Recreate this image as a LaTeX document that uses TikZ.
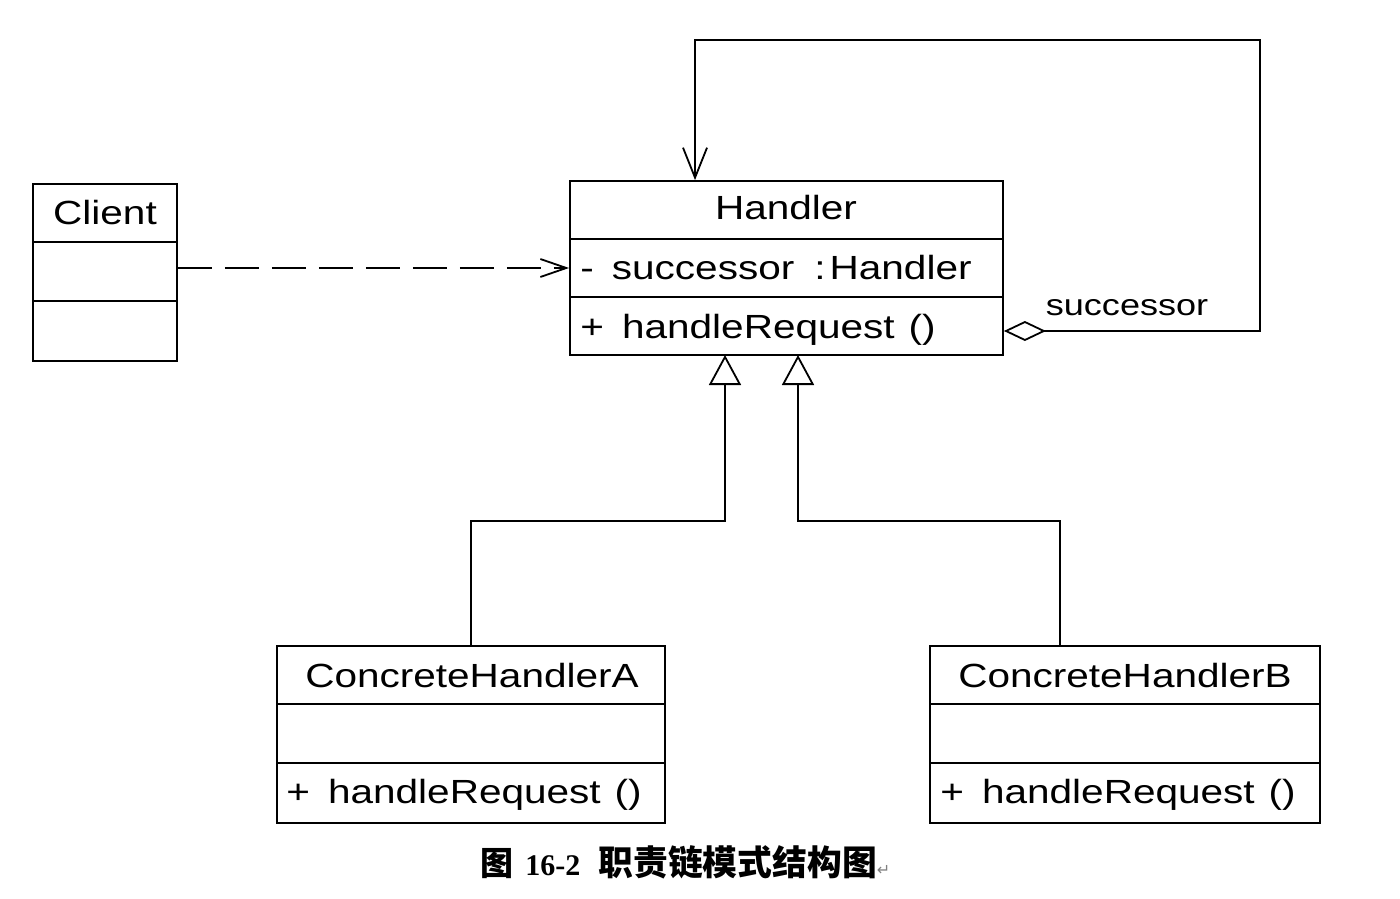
\documentclass[tikz,border=0pt]{standalone}
\usepackage{fontspec}
\setmainfont{Liberation Sans}
\newfontfamily\umlfont[FakeStretch=1.21]{Liberation Sans}
\newfontfamily\cjk{Noto Sans CJK SC}
\newfontfamily\capserif{Liberation Serif}
\newfontfamily\symfont{DejaVu Sans}
\usetikzlibrary{arrows.meta,calc}
\begin{document}
\begin{tikzpicture}[x=0.5pt,y=-0.5pt,
  cls/.style={draw, line width=0.9pt, inner sep=0pt, fill=white},
  sep/.style={line width=0.9pt},
  txt/.style={font=\umlfont\fontsize{16.75}{20}\selectfont, inner sep=0pt},
  lbl/.style={font=\umlfont\fontsize{14.9}{18}\selectfont, inner sep=0pt},
  conn/.style={line width=0.9pt},
  dep/.style={conn, dash pattern=on 17pt off 6.5pt, -{Straight Barb[length=13pt,width=9pt,line width=0.9pt]}},
  gen/.style={conn, -{Triangle[open,length=15pt,width=16pt,line width=0.9pt]}},
  agg/.style={conn, {Diamond[open,length=21pt,width=10pt,line width=0.9pt]}-{Straight Barb[length=15pt,width=12pt,line width=0.9pt]}}
]
\useasboundingbox (0,0) rectangle (1400,898);

% class boxes
\node[cls, minimum width=72pt, minimum height=88.5pt] (C) at (105,272.5) {};
\node[cls, minimum width=216.5pt, minimum height=87pt] (H) at (786.5,268) {};
\node[cls, minimum width=194pt, minimum height=88.5pt] (A) at (471,734.5) {};
\node[cls, minimum width=195pt, minimum height=88.5pt] (B) at (1125,734.5) {};

% compartments
\draw[sep] ($(C.north west)+(0,59)$) -- ($(C.north east)+(0,59)$);
\draw[sep] ($(C.north west)+(0,118)$) -- ($(C.north east)+(0,118)$);
\draw[sep] ($(H.north west)+(0,59)$) -- ($(H.north east)+(0,59)$);
\draw[sep] ($(H.north west)+(0,117)$) -- ($(H.north east)+(0,117)$);
\draw[sep] ($(A.north west)+(0,59)$) -- ($(A.north east)+(0,59)$);
\draw[sep] ($(A.north west)+(0,118)$) -- ($(A.north east)+(0,118)$);
\draw[sep] ($(B.north west)+(0,59)$) -- ($(B.north east)+(0,59)$);
\draw[sep] ($(B.north west)+(0,118)$) -- ($(B.north east)+(0,118)$);

% texts
\node[txt, anchor=base] (Cn) at (105,225) {Client};
\node[txt, anchor=base] (Hn) at (786,220) {Handler};
\node[txt, anchor=base west] (Ha) at (580,279) {-\hspace{9pt}successor\hspace{10pt}:\hspace{2pt}Handler};
\node[txt, anchor=base west] (Hm) at (580,338) {+\hspace{9pt}handleRequest\hspace{7pt}()};
\node[txt, anchor=base] (An) at (472,687) {ConcreteHandlerA};
\node[txt, anchor=base west] (Am) at (286,803) {+\hspace{9pt}handleRequest\hspace{7pt}()};
\node[txt, anchor=base] (Bn) at (1125,687) {ConcreteHandlerB};
\node[txt, anchor=base west] (Bm) at (940,803) {+\hspace{9pt}handleRequest\hspace{7pt}()};

% connectors
\coordinate (ga) at (725,355);
\coordinate (gb) at (798,355);
\coordinate (loop) at (1260,40);
\draw[dep] ([yshift=2.25pt]C.east) -- ([yshift=2.25pt]C.east -| H.west);
\draw[gen] (A.north) -- ++(0,-124) -| (ga);
\draw[gen] ([xshift=-32.5pt]B.north) -- ++(0,-124) -| (gb);
\draw[agg] ([yshift=-31.5pt]H.east) -| (loop) -| ([xshift=-45.75pt]H.north);

\node[lbl, anchor=base] (succ) at (1127,315) {successor};

% caption
\node[anchor=base west, inner sep=0pt] (cap) at (480,875)
  {\cjk\bfseries\fontsize{16.5}{20}\selectfont 图\hspace{6pt}{\capserif\bfseries\fontsize{15}{20}\selectfont 16-2}\hspace{9pt}\fontsize{17.4}{20}\selectfont 职责链模式结构图{\symfont\mdseries\color{gray}\fontsize{8}{8}\selectfont ↵}};
\end{tikzpicture}
\end{document}
